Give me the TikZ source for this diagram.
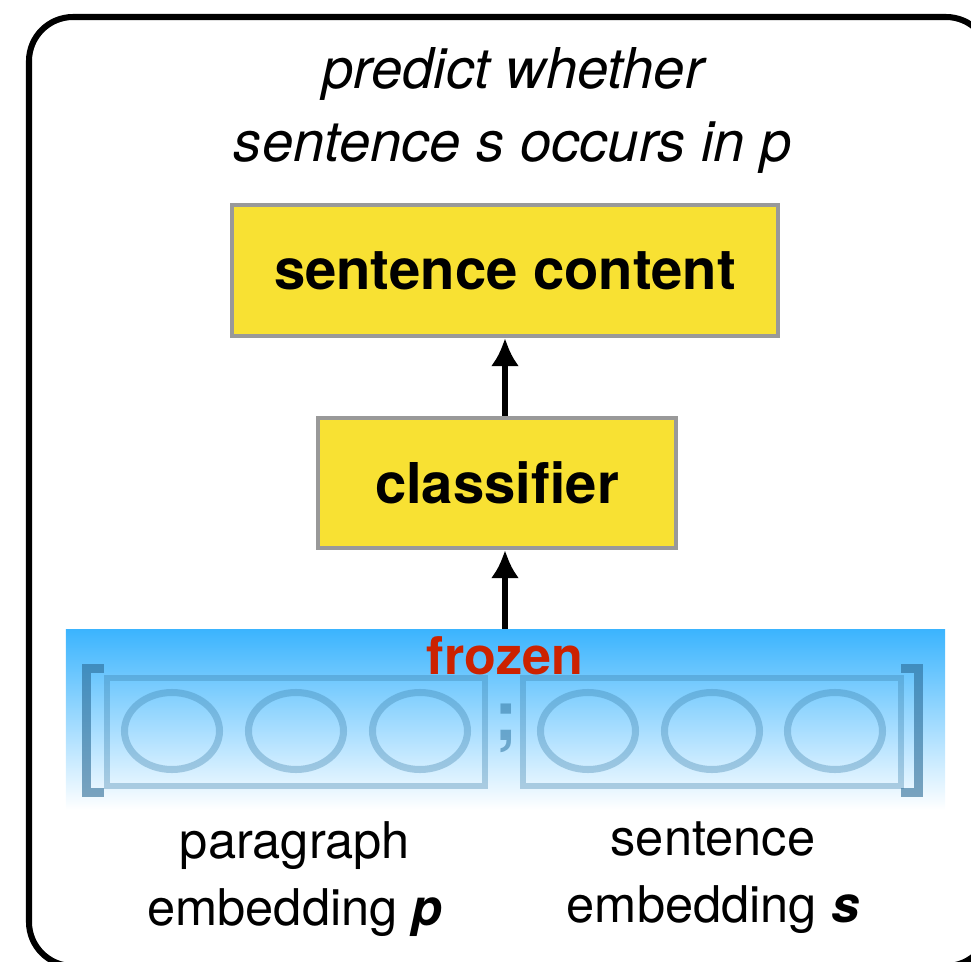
\documentclass[tikz,border=0pt]{standalone}
\usepackage{fontspec}
\setmainfont{TeX Gyre Heros}
\usetikzlibrary{arrows.meta,shapes.geometric}
\definecolor{boxyellow}{HTML}{F8E133}
\definecolor{boxgray}{HTML}{999999}
\definecolor{frozenred}{HTML}{CC2200}
\definecolor{bandblue}{HTML}{3BB4FE}
\definecolor{vecblue}{HTML}{3A7FAA}
\definecolor{brackblue}{HTML}{2A6A95}
\tikzset{>={Latex[length=20pt,width=20pt]}}
\tikzstyle{box}=[draw=boxgray, fill=boxyellow, line width=2.9pt, inner sep=0pt, font=\bfseries\fontsize{40}{48}\selectfont]
\tikzstyle{vec}=[draw=vecblue, draw opacity=0.35, line width=4.8pt, minimum width=94.5mm, minimum height=27mm, inner sep=0pt]
\tikzstyle{cell}=[ellipse, draw=vecblue, draw opacity=0.35, line width=5pt, minimum width=23.75mm, minimum height=19.25mm, inner sep=0pt]
\tikzstyle{bracket}=[draw=brackblue, draw opacity=0.6, line width=6.4pt]
\tikzstyle{label}=[align=center, inner sep=0pt, anchor=north, font=\fontsize{36}{48}\selectfont]
\newcommand{\cell}{\node[cell]}

\begin{document}
\begin{tikzpicture}[x=0.25mm, y=-0.25mm]
\clip (0,0) rectangle (971,962);
\draw[line width=4.3pt, rounded corners=11mm] (29,17) rectangle (990,966);
% task
\node[label, font=\itshape\fontsize{40}{52}\selectfont] (question) at (513,47) {predict whether\\sentence s occurs in p};
\node[box, minimum width=136.5mm, minimum height=32.75mm] (content) at (505,270.5) {sentence content};
\node[box, minimum width=89.5mm, minimum height=32.5mm] (classifier) at (497,483) {classifier};
% frozen embeddings
\node[top color=bandblue, bottom color=white, minimum width=219.75mm, minimum height=45.25mm, inner sep=0pt] (band) at (505.5,719.5) {};
\node[anchor=base, text=frozenred, font=\bfseries\fontsize{37}{40}\selectfont] (frozen) at (505,674) {frozen};
\node[vec] (pvec) at (296,732) {};
\node[vec] (svec) at (712,732) {};
\foreach \i/\x in {1/172,2/296,3/420} \cell (p\i) at (\x,731) {};
\foreach \i/\x in {1/588,2/712,3/835} \cell (s\i) at (\x,731) {};
\node[text=vecblue, text opacity=0.6, font=\bfseries\fontsize{50}{50}\selectfont] (semi) at (506,728) {;};
\draw[bracket] (104,668) -- (86.5,668) -- (86.5,792) -- (104,792);
\draw[bracket] (901,668) -- (918.5,668) -- (918.5,792) -- (901,792);
\node[label] (plabel) at (295,821) {paragraph\\embedding \textbf{\textit{p}}};
\node[label] (slabel) at (713,821) {sentence\\embedding \textbf{\textit{s}}};
\draw[->, line width=4.3pt] (band.north -| content.south) -- (classifier.south -| content.south);
\draw[->, line width=4.3pt] (classifier.north -| content.south) -- (content.south);
\end{tikzpicture}
\end{document}
